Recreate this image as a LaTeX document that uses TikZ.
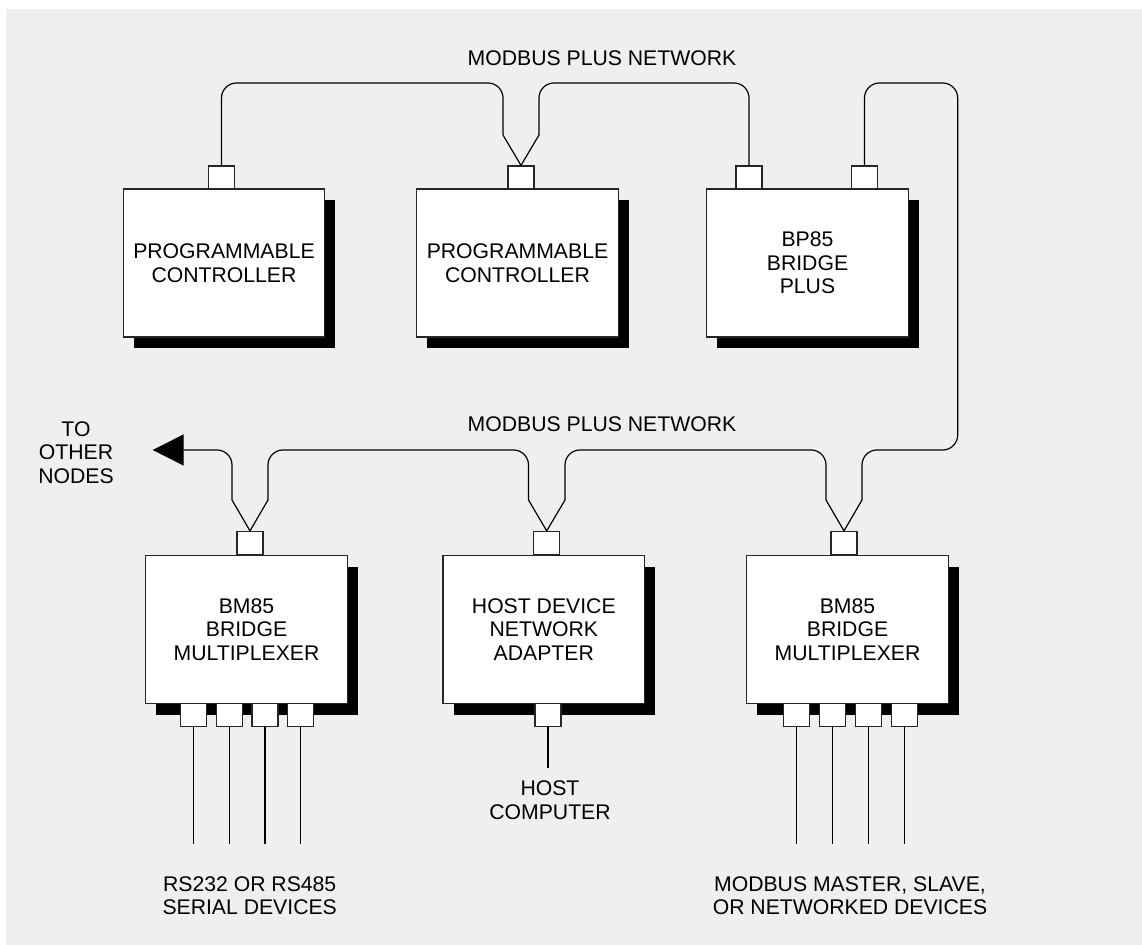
\documentclass[tikz,border=0pt]{standalone}
\usepackage{fontspec}
\setmainfont{Liberation Sans}
\usetikzlibrary{arrows.meta,shadows}
\definecolor{panelgray}{HTML}{EFEFEF}
\tikzset{
	unit/.style={draw=black!85, fill=white, line width=0.6pt, minimum width=100.75pt,
		minimum height=74pt, align=center, inner sep=0pt,
		drop shadow={fill=black, opacity=1, shadow xshift=5.25pt, shadow yshift=-5.5pt}},
	port/.style={draw=black!85, fill=white, line width=0.6pt, minimum width=13pt,
		minimum height=11.5pt, inner sep=0pt},
	wire/.style={line width=0.6pt},
	cable/.style={wire, rounded corners=7.5pt},
	lbl/.style={align=center, inner sep=0pt}
}
\begin{document}
\begin{tikzpicture}[x=0.5pt, y=-0.5pt, font=\fontsize{10.6pt}{11.75pt}\selectfont]
	% Hintergrund
	\useasboundingbox (0,0) rectangle (1142,945);
	\fill[panelgray] (6,9) rectangle (1142,945);

	% Geraete oben
	\node[unit] (pc1) at (224,263) {PROGRAMMABLE\\CONTROLLER};
	\node[unit] (pc2) at (517.5,263) {PROGRAMMABLE\\CONTROLLER};
	\node[unit] (bp85) at (807.5,263) {BP85\\BRIDGE\\PLUS};
	\node[port] (pc1port) at (221.5,177.5) {};
	\node[port] (pc2port) at (521,177.5) {};
	\node[port] (bp85porta) at (749,177.5) {};
	\node[port] (bp85portb) at (864.5,177.5) {};

	% Geraete unten
	\node[unit] (bm1) at (246.5,629.6) {BM85\\BRIDGE\\MULTIPLEXER};
	\node[unit] (host) at (543.8,629.6) {HOST DEVICE\\NETWORK\\ADAPTER};
	\node[unit] (bm2) at (847.5,629.6) {BM85\\BRIDGE\\MULTIPLEXER};
	\node[port] (bm1port) at (250,543) {};
	\node[port] (hostport) at (546.7,543) {};
	\node[port] (bm2port) at (844,543) {};

	% Netzleitungen
	\coordinate (netA) at (0,83);
	\coordinate (netB) at (0,450);
	\coordinate (ring) at (957.7,0);
	\coordinate (pc2vl) at (503,135);
	\coordinate (pc2vr) at (539,135);
	\coordinate (bm1vl) at (232,500);
	\coordinate (bm1vr) at (268,500);
	\coordinate (hostvl) at (528.5,500);
	\coordinate (hostvr) at (565,500);
	\coordinate (bm2vl) at (826,500);
	\coordinate (bm2vr) at (862,500);
	\coordinate (othernodes) at (152.7,450);

	\draw[cable] (pc1port.north) -- (pc1port.north |- netA) -- (pc2vl |- netA) -- (pc2vl);
	\draw[cable] (pc2vr) -- (pc2vr |- netA) -- (bp85porta.north |- netA) -- (bp85porta.north);
	\draw[cable] (bp85portb.north) -- (bp85portb.north |- netA) -- (ring |- netA)
		-- (ring |- netB) -- (bm2vr |- netB) -- (bm2vr);
	\draw[wire] (pc2vl) -- (pc2port.north) -- (pc2vr);

	\draw[cable, -{Triangle[length=15.5pt, width=15.5pt]}] (bm1vl) -- (bm1vl |- netB)
		-- (othernodes);
	\draw[cable] (bm1vr) -- (bm1vr |- netB) -- (hostvl |- netB) -- (hostvl);
	\draw[cable] (hostvr) -- (hostvr |- netB) -- (bm2vl |- netB) -- (bm2vl);
	\draw[wire] (bm1vl) -- (bm1port.north) -- (bm1vr);
	\draw[wire] (hostvl) -- (hostport.north) -- (hostvr);
	\draw[wire] (bm2vl) -- (bm2port.north) -- (bm2vr);

	% Anschluesse unten
	\foreach \x [count=\i] in {193.3,229.3,265,300.7} {
		\node[port] (bm1out\i) at (\x,715) {};
		\coordinate (bm1end\i) at (\x,844.3);
		\draw[wire] (bm1out\i.south) -- (bm1end\i);
	}
	\foreach \x [count=\i] in {796.7,832.7,868.3,904.3} {
		\node[port] (bm2out\i) at (\x,715) {};
		\coordinate (bm2end\i) at (\x,844.3);
		\draw[wire] (bm2out\i.south) -- (bm2end\i);
	}
	\node[port] (hostout) at (548,715) {};
	\coordinate (hostend) at (548,767.7);
	\draw[wire] (hostout.south) -- (hostend);

	% Beschriftungen
	\node[lbl] (netAlabel) at (602,58) {MODBUS PLUS NETWORK};
	\node[lbl] (netBlabel) at (602,424.5) {MODBUS PLUS NETWORK};
	\node[lbl] (otherlabel) at (76,452.5) {TO\\OTHER\\NODES};
	\node[lbl] (hostlabel) at (550,800) {HOST\\COMPUTER};
	\node[lbl] (seriallabel) at (249.7,895.5) {RS232 OR RS485\\SERIAL DEVICES};
	\node[lbl] (modbuslabel) at (850,895.5) {MODBUS MASTER, SLAVE,\\OR NETWORKED DEVICES};
\end{tikzpicture}
\end{document}
